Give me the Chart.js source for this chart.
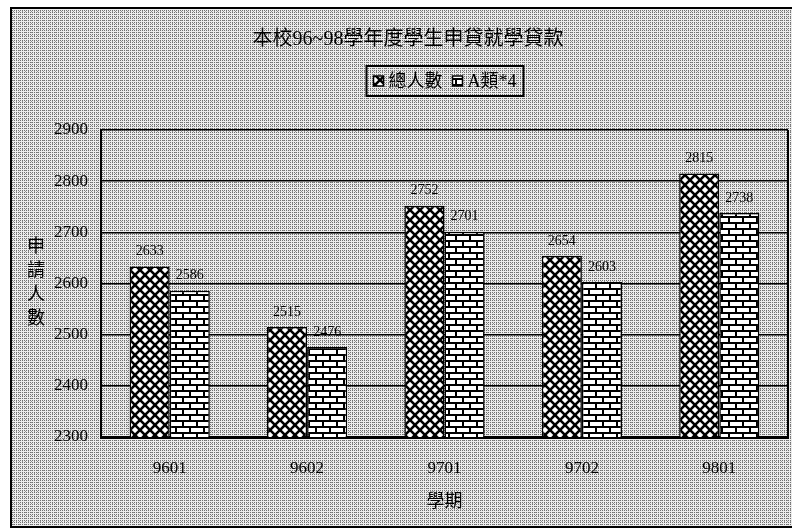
<!DOCTYPE html>
<html>
<head>
<meta charset="utf-8">
<script src="https://cdn.jsdelivr.net/npm/chart.js@4.4.1/dist/chart.umd.min.js"></script>
<style>
  html, body { margin: 0; padding: 0; background: #fff; }
  #wrap { width: 792px; height: 528px; }
</style>
</head>
<body>
<div id="wrap"><canvas id="c" width="792" height="528"></canvas></div>
<script>
var terms = ["9601", "9602", "9701", "9702", "9801"];
var totalCount = [2633, 2515, 2752, 2654, 2815];
var typeA4 = [2586, 2476, 2701, 2603, 2738];
var seriesNames = ["總人數", "A類*4"];
var yTicks = [2300, 2400, 2500, 2600, 2700, 2800, 2900];
var chartTitle = "本校96~98學年度學生申貸就學貸款";
var xTitle = "學期";
var yTitle = "申請人數";

(function () {
  var el = document.getElementById("c");
  var ctx = el.getContext("2d");
  var serif = "'Liberation Serif', 'Noto Sans CJK TC', serif";

  function tile(w, h, draw) {
    var t = document.createElement("canvas");
    t.width = w;
    t.height = h;
    draw(t.getContext("2d"), w, h);
    return ctx.createPattern(t, "repeat");
  }

  // dithered grey paper
  var paper = tile(6, 6, function (g) {
    g.fillStyle = "#ececec";
    g.fillRect(0, 0, 6, 6);
    for (var i = 0; i < 6; i++) {
      for (var j = 0; j < 6; j++) {
        if (i % 2 === 0 && j % 2 === 0) { g.fillStyle = "#707070"; g.fillRect(i, j, 1, 1); }
        else if (i % 3 === 1 && j % 3 === 2) { g.fillStyle = "#909090"; g.fillRect(i, j, 1, 1); }
      }
    }
  });

  // diagonal crosshatch
  var hatch = tile(10, 10, function (g) {
    g.fillStyle = "#fff";
    g.fillRect(0, 0, 10, 10);
    g.strokeStyle = "#000";
    g.lineWidth = 2.6;
    for (var k = -10; k <= 10; k += 10) {
      g.beginPath(); g.moveTo(k, 0); g.lineTo(k + 10, 10); g.stroke();
      g.beginPath(); g.moveTo(k + 10, 0); g.lineTo(k, 10); g.stroke();
    }
  });

  // bricks
  var brick = tile(14, 12, function (g) {
    g.fillStyle = "#fff";
    g.fillRect(0, 0, 14, 12);
    g.fillStyle = "#000";
    g.fillRect(0, 0, 14, 2);
    g.fillRect(0, 6, 14, 2);
    g.fillRect(0, 0, 2, 6);
    g.fillRect(7, 6, 2, 6);
  });

  var decor = {
    id: "decor",
    beforeDraw: function (chart) {
      var c = chart.ctx;
      c.save();
      c.fillStyle = "#fff";
      c.fillRect(0, 0, chart.width, chart.height);
      c.fillStyle = paper;
      c.fillRect(11, 8, chart.width, chart.height);
      c.strokeStyle = "#000";
      c.lineWidth = 2;
      c.strokeRect(11, 8, chart.width + 10, chart.height - 9);
      c.restore();
    },
    afterDraw: function (chart) {
      var c = chart.ctx, a = chart.chartArea;
      c.save();
      c.strokeStyle = "#000";
      c.lineWidth = 2;
      c.beginPath();
      c.moveTo(a.right, a.top);
      c.lineTo(a.right, a.bottom);
      c.stroke();

      // legend
      c.font = "18px " + serif;
      c.textBaseline = "middle";
      c.fillStyle = "#000";
      var sets = chart.data.datasets, widths = [], total = 0;
      for (var i = 0; i < sets.length; i++) {
        widths.push(c.measureText(sets[i].label).width);
        total += 10 + 5 + widths[i] + (i ? 10 : 0);
      }
      var bx = 445 - total / 2 - 7, by = 66;
      c.lineWidth = 2;
      c.strokeRect(bx, by, total + 14, 30);
      var x = bx + 7, cy = by + 15;
      for (i = 0; i < sets.length; i++) {
        c.fillStyle = sets[i].backgroundColor;
        c.fillRect(x, cy - 5, 10, 10);
        c.lineWidth = 1.5;
        c.strokeRect(x, cy - 5, 10, 10);
        c.fillStyle = "#000";
        c.textAlign = "left";
        c.fillText(sets[i].label, x + 15, cy + 1);
        x += 15 + widths[i] + 10;
      }

      // axis titles
      c.font = "18px " + serif;
      c.textAlign = "center";
      c.fillText(xTitle, (a.left + a.right) / 2, 502);
      var chars = yTitle.split(""), mid = (a.top + a.bottom) / 2;
      for (i = 0; i < chars.length; i++) {
        c.fillText(chars[i], 36, mid + (i - (chars.length - 1) / 2) * 24);
      }
      c.restore();
    },
    afterDatasetsDraw: function (chart) {
      var c = chart.ctx;
      c.save();
      c.font = "14px " + serif;
      c.fillStyle = "#000";
      c.textAlign = "center";
      c.textBaseline = "middle";
      chart.data.datasets.forEach(function (ds, di) {
        chart.getDatasetMeta(di).data.forEach(function (bar, i) {
          c.fillText(String(ds.data[i]), bar.x, bar.y - 15);
        });
      });
      c.restore();
    }
  };

  Chart.defaults.font.family = serif;
  Chart.defaults.color = "#000";

  new Chart(el, {
    type: "bar",
    data: {
      labels: terms,
      datasets: [
        { label: seriesNames[0], data: totalCount, backgroundColor: hatch, borderColor: "#000", borderWidth: 1.5 },
        { label: seriesNames[1], data: typeA4, backgroundColor: brick, borderColor: "#000", borderWidth: 1.5 }
      ]
    },
    options: {
      responsive: false,
      animation: false,
      layout: { padding: { left: 28, right: 4, top: 8, bottom: 0 } },
      datasets: { bar: { categoryPercentage: 0.584, barPercentage: 1 } },
      plugins: {
        legend: { display: false },
        tooltip: { enabled: false },
        title: {
          display: true,
          text: chartTitle,
          color: "#000",
          font: { size: 20, weight: "normal" },
          padding: { top: 20, bottom: 78 }
        }
      },
      scales: {
        x: {
          grid: { display: false, drawTicks: false },
          border: { display: true, color: "#000", width: 3 },
          ticks: { padding: 21, font: { size: 17 }, color: "#000" },
          afterFit: function (s) { s.height = 91; }
        },
        y: {
          min: 2300,
          max: 2900,
          grid: { color: "#000", lineWidth: 1.5, drawTicks: false },
          border: { display: true, color: "#000", width: 2 },
          ticks: {
            padding: 13,
            font: { size: 17 },
            color: "#000",
            callback: function (v) { return String(v); }
          },
          afterBuildTicks: function (s) { s.ticks = yTicks.map(function (v) { return { value: v }; }); },
          afterFit: function (s) { s.width = 73; }
        }
      }
    },
    plugins: [decor]
  });
})();
</script>
</body>
</html>
